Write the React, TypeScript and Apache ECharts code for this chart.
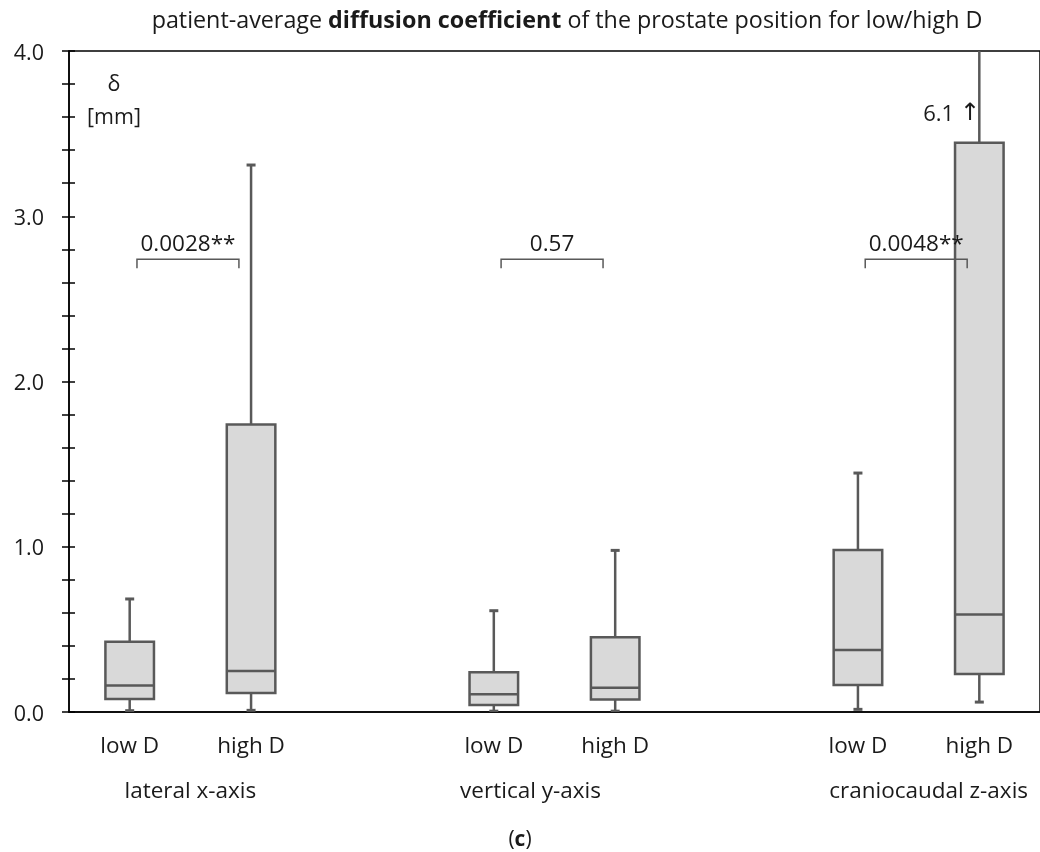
import React, { useEffect, useRef } from 'react';
import * as echarts from 'echarts';

const categories = ['low D', 'high D', '', 'low D', 'high D', '', 'low D', 'high D'];
const boxPositions = [0, 1, 3, 4, 6, 7];
const whiskerMin = [0.008, 0.01, 0.005, 0.005, 0.016, 0.06];
const q1 = [0.079, 0.115, 0.042, 0.075, 0.163, 0.23];
const median = [0.16, 0.248, 0.107, 0.147, 0.375, 0.59];
const q3 = [0.425, 1.74, 0.24, 0.452, 0.98, 3.445];
const whiskerMax = [0.684, 3.31, 0.613, 0.978, 1.446, 6.1];
const groupLabels = ['lateral x-axis', 'vertical y-axis', 'craniocaudal z-axis'];
const groupPairs = [[0, 1], [3, 4], [6, 7]];
const pValues = ['0.0028**', '0.57', '0.0048**'];
const bracketLevel = [2.74, 2.74, 2.74];
const yMin = 0;
const yMax = 4;
const yMinorInterval = 0.2;

const FONT = '"Open Sans", "Noto Sans", sans-serif';
const TXT = '#1a1a1a';
const BOX_STROKE = '#595959';
const BOX_FILL = '#d9d9d9';
const GROUP_LABEL_SHIFT = [0, -24, 10];

export default function App() {
  const ref = useRef<HTMLDivElement>(null);
  useEffect(() => {
    if (!ref.current) return;
    const chart = echarts.init(ref.current, null, { renderer: 'svg' });

    const boxData = boxPositions.map((p, i) => [p, whiskerMin[i], q1[i], median[i], q3[i], whiskerMax[i]]);
    const bracketData = groupPairs.map((g, i) => [g[0], g[1], bracketLevel[i], i]);
    const groupData = groupPairs.map((g, i) => [g[0], g[1], 0, i]);

    const isInt = (v: number) => Math.abs(v - Math.round(v)) < 1e-6;

    const option: any = {
      animation: false,
      grid: { left: 69, top: 51, width: 980, height: 661, show: true, borderColor: '#000', borderWidth: 1.5, backgroundColor: 'transparent' },
      xAxis: {
        type: 'category',
        data: categories,
        boundaryGap: true,
        axisLine: { lineStyle: { color: '#000', width: 1.5 } },
        axisTick: { show: false },
        axisLabel: { color: TXT, fontSize: 22.5, fontFamily: FONT, margin: 21, interval: 0 },
        splitLine: { show: false },
      },
      yAxis: [
        {
          type: 'value', min: yMin, max: yMax, interval: yMinorInterval,
          axisLine: { show: true, lineStyle: { color: '#000', width: 1.5 } },
          axisTick: { show: true, length: 7, lineStyle: { color: '#000', width: 1.5 } },
          axisLabel: {
            color: TXT, fontSize: 21.5, fontFamily: FONT, margin: 25, showMinLabel: true, showMaxLabel: true,
            formatter: (v: number) => (isInt(v) ? v.toFixed(1) : ''),
          },
          splitLine: { show: false },
        },
        {
          type: 'value', min: yMin, max: yMax, interval: yMinorInterval, position: 'left',
          axisLine: { show: false },
          axisTick: { show: true, inside: true, length: 6, lineStyle: { color: '#000', width: 1.5 } },
          axisLabel: { show: false },
          splitLine: { show: false },
        },
      ],
      series: [
        {
          type: 'custom',
          clip: true,
          data: boxData,
          renderItem: (params: any, api: any) => {
            const x = api.value(0);
            const pMin = api.coord([x, api.value(1)]);
            const pQ1 = api.coord([x, api.value(2)]);
            const pMed = api.coord([x, api.value(3)]);
            const pQ3 = api.coord([x, api.value(4)]);
            const pMax = api.coord([x, api.value(5)]);
            const band = api.size([1, 0])[0];
            const w = band * 0.4;
            const cx = pMin[0];
            const ln = { stroke: BOX_STROKE, lineWidth: 2.5 };
            return {
              type: 'group',
              children: [
                { type: 'line', shape: { x1: cx, y1: pMax[1], x2: cx, y2: pQ3[1] }, style: ln },
                { type: 'line', shape: { x1: cx, y1: pQ1[1], x2: cx, y2: pMin[1] }, style: ln },
                { type: 'line', shape: { x1: cx - 4.5, y1: pMax[1], x2: cx + 4.5, y2: pMax[1] }, style: { stroke: BOX_STROKE, lineWidth: 3 } },
                { type: 'line', shape: { x1: cx - 4.5, y1: pMin[1], x2: cx + 4.5, y2: pMin[1] }, style: { stroke: BOX_STROKE, lineWidth: 3 } },
                { type: 'rect', shape: { x: cx - w / 2, y: pQ3[1], width: w, height: pQ1[1] - pQ3[1] }, style: { fill: BOX_FILL, stroke: BOX_STROKE, lineWidth: 2.5 } },
                { type: 'line', shape: { x1: cx - w / 2, y1: pMed[1], x2: cx + w / 2, y2: pMed[1] }, style: ln },
              ],
            };
          },
          z: 2,
        },
        {
          type: 'custom',
          data: bracketData,
          renderItem: (params: any, api: any) => {
            const a = api.coord([api.value(0), api.value(2)]);
            const b = api.coord([api.value(1), api.value(2)]);
            const band = api.size([1, 0])[0];
            const x1 = a[0] + band * 0.06;
            const x2 = b[0] - band * 0.1;
            const y = a[1];
            const idx = api.value(3);
            return {
              type: 'group',
              children: [
                { type: 'polyline', shape: { points: [[x1, y + 9], [x1, y], [x2, y], [x2, y + 9]] }, style: { stroke: '#595959', lineWidth: 1.5, fill: 'none' } },
                { type: 'text', x: (x1 + x2) / 2, y: y - 17, style: { text: pValues[idx], align: 'center', verticalAlign: 'middle', fontSize: 22.5, fontFamily: FONT, fill: TXT } },
              ],
            };
          },
          z: 3,
        },
        {
          type: 'custom',
          data: groupData,
          renderItem: (params: any, api: any) => {
            const a = api.coord([api.value(0), 0]);
            const b = api.coord([api.value(1), 0]);
            const idx = api.value(3);
            return {
              type: 'text', x: (a[0] + b[0]) / 2 + GROUP_LABEL_SHIFT[idx], y: a[1] + 77,
              style: { text: groupLabels[idx], align: 'center', verticalAlign: 'middle', fontSize: 22.5, fontFamily: FONT, fill: TXT },
            };
          },
        },
      ],
      graphic: [
        {
          type: 'text', x: 567, y: 19,
          style: {
            text: '{n|patient-average }{b|diffusion coefficient}{n| of the prostate position for low/high D}',
            align: 'center', verticalAlign: 'middle',
            rich: {
              n: { fontSize: 23.3, fontFamily: FONT, fill: TXT },
              b: { fontSize: 23.3, fontFamily: FONT, fontWeight: 'bold', fill: TXT },
            },
          },
        },
        { type: 'text', x: 114, y: 82, style: { text: 'δ', align: 'center', verticalAlign: 'middle', fontSize: 21.5, fontFamily: FONT, fill: TXT } },
        { type: 'text', x: 114, y: 115, style: { text: '[mm]', align: 'center', verticalAlign: 'middle', fontSize: 21.5, fontFamily: FONT, fill: TXT } },
        {
          type: 'text', x: 980, y: 112,
          style: {
            text: '{n|6.1 }{a|↑}', align: 'right', verticalAlign: 'middle',
            rich: {
              n: { fontSize: 22, fontFamily: FONT, fill: TXT },
              a: { fontSize: 24, fontFamily: '"DejaVu Sans", sans-serif', fill: TXT },
            },
          },
        },
        {
          type: 'text', x: 520, y: 838,
          style: {
            text: '{n|(}{b|c}{n|)}', align: 'center', verticalAlign: 'middle',
            rich: {
              n: { fontSize: 21, fontFamily: FONT, fill: TXT },
              b: { fontSize: 21, fontFamily: FONT, fontWeight: 'bold', fill: TXT },
            },
          },
        },
      ],
    };
    chart.setOption(option);
    return () => chart.dispose();
  }, []);
  return <div ref={ref} style={{ position: 'fixed', left: 0, top: 0, width: 1040, height: 852 }} />;
}
